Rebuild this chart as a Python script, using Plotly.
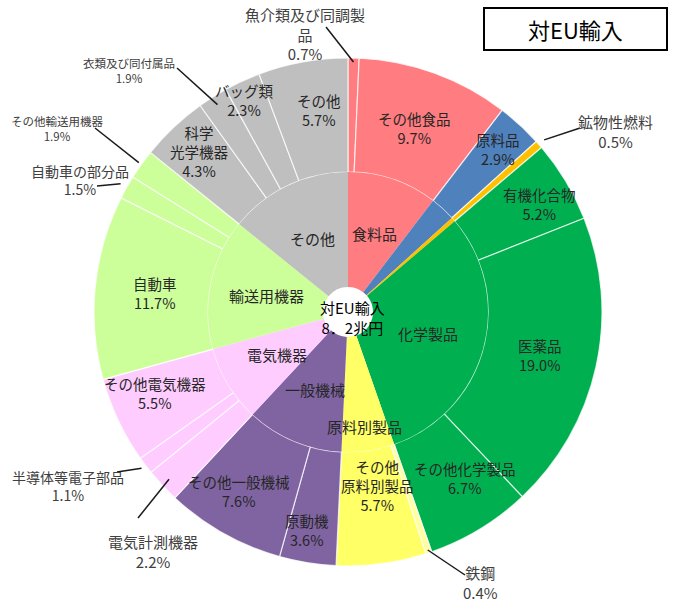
import math
import plotly.graph_objects as go

# ---------------- data ----------------
groups = ["食料品", "原料品", "鉱物性燃料", "化学製品", "原料別製品",
          "一般機械", "電気機器", "輸送用機器", "その他"]
sub_labels = ["魚介類及び同調製品", "その他食品", "原料品", "鉱物性燃料",
              "有機化合物", "医薬品", "その他化学製品",
              "鉄鋼", "その他原料別製品",
              "原動機", "その他一般機械",
              "電気計測機器", "半導体等電子部品", "その他電気機器",
              "自動車", "自動車の部分品", "その他輸送用機器",
              "科学光学機器", "衣類及び同付属品", "バッグ類", "その他"]
sub_values = [0.7, 9.7, 2.9, 0.5,
              5.2, 19.0, 6.7,
              0.4, 5.7,
              3.6, 7.6,
              2.2, 1.1, 5.5,
              11.7, 1.5, 1.9,
              4.3, 1.9, 2.3, 5.7]
sub_parent = ["食料品", "食料品", "原料品", "鉱物性燃料",
              "化学製品", "化学製品", "化学製品",
              "原料別製品", "原料別製品",
              "一般機械", "一般機械",
              "電気機器", "電気機器", "電気機器",
              "輸送用機器", "輸送用機器", "輸送用機器",
              "その他", "その他", "その他", "その他"]
center_text = "対EU輸入<br>8．2兆円"
title_text = "対EU輸入"

group_values = [round(sum(v for v, p in zip(sub_values, sub_parent) if p == g), 1) for g in groups]

# ---------------- style ----------------
group_colors = {"食料品": "#FF7C80", "原料品": "#4F81BD", "鉱物性燃料": "#FFC000",
                "化学製品": "#00B050", "原料別製品": "#FFFF66", "一般機械": "#8064A2",
                "電気機器": "#FFCCFF", "輸送用機器": "#CCFF99", "その他": "#BFBFBF"}
color_override = {"鉄鋼": "#FFFFA0"}
display_name = {"魚介類及び同調製品": "魚介類及び同調製<br>品",
                "科学光学機器": "科学<br>光学機器",
                "その他原料別製品": "その他<br>原料別製品"}

W, H = 674, 610
CX, CY = 348, 312
R_OUT, R_IN, R_HOLE = 254, 140, 25
FONT = "Noto Sans CJK JP"

# inside labels: (radius px, angle offset deg)
inside_pos = {"その他食品": (196, 0), "原料品": (222, 0), "有機化合物": (220, 1.5),
              "医薬品": (197, 0), "その他化学製品": (203, -4), "その他原料別製品": (176, -2),
              "原動機": (222, 1.5), "その他一般機械": (209, 2), "その他電気機器": (209, 2.5),
              "自動車": (194, 0), "科学光学機器": (219, 0.5), "バッグ類": (236, -1.5),
              "その他": (204, 2)}
# outside labels: tip radius, text centre (px), line end (px), font size
outside_pos = {"魚介類及び同調製品": (250, (305, 34), (326, 27), 15),
               "鉱物性燃料": (261, (615, 131), (580, 128), 15),
               "鉄鋼": (251, (480, 582), (465, 575), 15),
               "電気計測機器": (245, (153, 551), (138, 518), 15),
               "半導体等電子部品": (259, (68, 486), (117, 472), 14),
               "自動車の部分品": (261, (80, 180), (97, 186), 14),
               "その他輸送用機器": (257, (57, 128), (95, 128), 11.5),
               "衣類及び同付属品": (245, (129, 70), (177, 68), 11.5)}
inner_pos = {"食料品": 83, "化学製品": 83, "原料別製品": 116, "一般機械": 84,
             "電気機器": 83, "輸送用機器": 83, "その他": 82}


def px2paper(x, y):
    return x / W, 1 - y / H


def polar(r, ang_deg):
    a = math.radians(ang_deg)
    return CX + r * math.sin(a), CY - r * math.cos(a)


def mid_angles(values):
    tot = sum(values)
    out, c = [], 0.0
    for v in values:
        out.append((c + v / 2) / tot * 360)
        c += v
    return out


fig = go.Figure()

sub_colors = [color_override.get(l, group_colors[p]) for l, p in zip(sub_labels, sub_parent)]
fig.add_trace(go.Pie(
    labels=[f"{p}-{l}" for l, p in zip(sub_labels, sub_parent)], values=sub_values,
    sort=False, direction="clockwise", rotation=0, hole=R_IN / R_OUT,
    marker=dict(colors=sub_colors, line=dict(color="rgba(255,255,255,0.75)", width=1.2)),
    textinfo="none", hoverinfo="skip", showlegend=False,
    domain=dict(x=[(CX - R_OUT) / W, (CX + R_OUT) / W],
                y=[(H - CY - R_OUT) / H, (H - CY + R_OUT) / H])))

fig.add_trace(go.Pie(
    labels=groups, values=group_values,
    sort=False, direction="clockwise", rotation=0, hole=R_HOLE / R_IN,
    marker=dict(colors=[group_colors[g] for g in groups], line=dict(width=0)),
    textinfo="none", hoverinfo="skip", showlegend=False,
    domain=dict(x=[(CX - R_IN) / W, (CX + R_IN) / W],
                y=[(H - CY - R_IN) / H, (H - CY + R_IN) / H])))

annotations, shapes = [], []

def add_text(x, y, text, size, color):
    xp, yp = px2paper(x, y)
    annotations.append(dict(x=xp, y=yp, xref="paper", yref="paper", text=text,
                            showarrow=False, xanchor="center", yanchor="middle",
                            font=dict(family=FONT, size=size, color=color)))

# outer ring labels
for lab, val, ang in zip(sub_labels, sub_values, mid_angles(sub_values)):
    txt = f"{display_name.get(lab, lab)}<br>{val:.1f}%"
    if lab in inside_pos:
        r, da = inside_pos[lab]
        x, y = polar(r, ang + da)
        add_text(x, y, txt, 14.5, "#262626")
    elif lab in outside_pos:
        rt, (tx, ty), (lx, ly), fs = outside_pos[lab]
        x0, y0 = polar(rt, ang)
        p0 = px2paper(x0, y0)
        p1 = px2paper(lx, ly)
        shapes.append(dict(type="line", xref="paper", yref="paper",
                           x0=p0[0], y0=p0[1], x1=p1[0], y1=p1[1],
                           line=dict(color="#1a1a1a", width=1.5)))
        add_text(tx, ty, txt, fs, "#404040")

# inner ring labels
for g, ang in zip(groups, mid_angles(group_values)):
    if g in inner_pos:
        x, y = polar(inner_pos[g], ang)
        add_text(x, y, g, 15, "#262626")

# centre text
add_text(CX + 4, CY + 5, center_text, 15, "#000000")

# title box
b0 = px2paper(484, 8)
b1 = px2paper(667, 50)
shapes.append(dict(type="rect", xref="paper", yref="paper", x0=b0[0], y0=b0[1],
                   x1=b1[0], y1=b1[1], line=dict(color="#000000", width=2),
                   fillcolor="rgba(0,0,0,0)"))
add_text(575, 29, title_text, 22, "#000000")

fig.update_layout(width=W, height=H, margin=dict(l=0, r=0, t=0, b=0),
                  paper_bgcolor="white", plot_bgcolor="white",
                  annotations=annotations, shapes=shapes, showlegend=False)

fig.write_html("out.html")
